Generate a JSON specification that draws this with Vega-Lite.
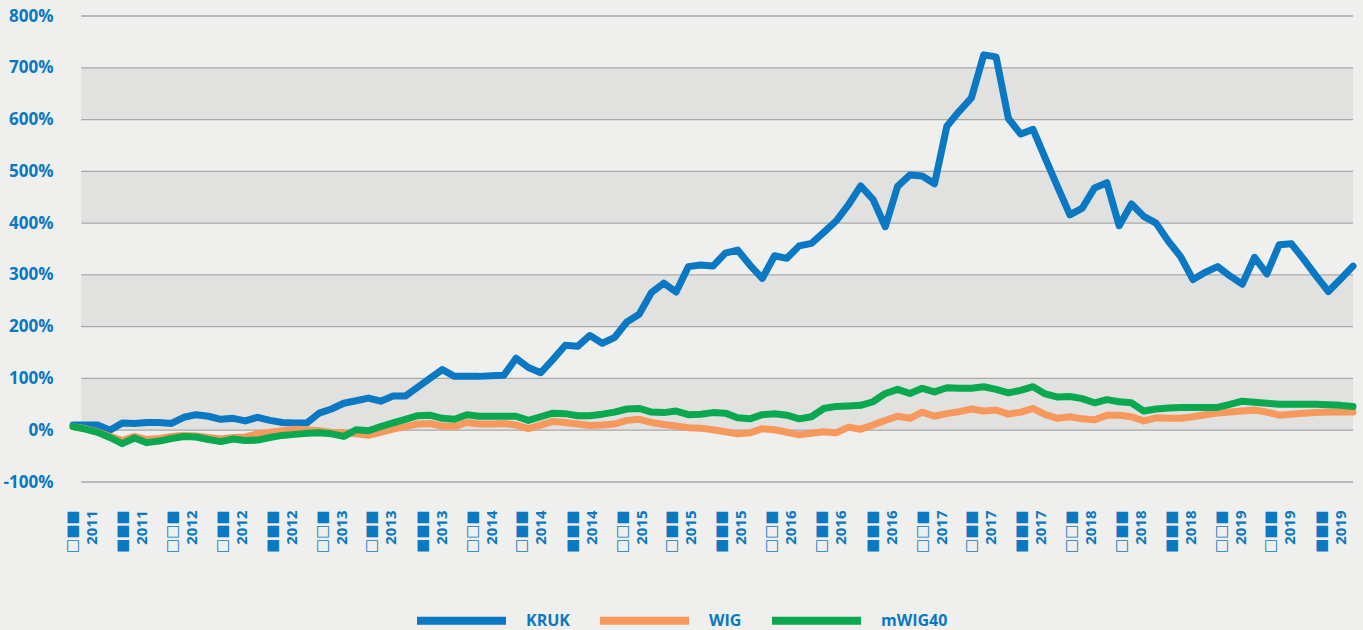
{
  "$schema": "https://vega.github.io/schema/vega-lite/v6.json",
  "width": 1280,
  "height": 466,
  "autosize": {"type": "none"},
  "padding": {"left": 73, "top": 16, "right": 10, "bottom": 148},
  "background": "#efefed",
  "config": {"view": {"stroke": null}, "font": "Open Sans"},
  "datasets": {
    "bands": [{"lo": 0, "hi": 100}, {"lo": 200, "hi": 300}, {"lo": 400, "hi": 500}, {"lo": 600, "hi": 700}],
    "grid": [{"v": -100}, {"v": 0}, {"v": 100}, {"v": 200}, {"v": 300}, {"v": 400}, {"v": 500}, {"v": 600}, {"v": 700}, {"v": 800}],
    "series": [
      {"date": "2011-04-04", "KRUK": 10, "WIG": 7, "mWIG40": 7},
      {"date": "2011-05-04", "KRUK": 10, "WIG": 3, "mWIG40": 2},
      {"date": "2011-06-03", "KRUK": 10, "WIG": -3, "mWIG40": -4},
      {"date": "2011-07-03", "KRUK": 0, "WIG": -12, "mWIG40": -14},
      {"date": "2011-08-02", "KRUK": 14, "WIG": -20, "mWIG40": -26},
      {"date": "2011-09-01", "KRUK": 13, "WIG": -12, "mWIG40": -15},
      {"date": "2011-10-01", "KRUK": 15, "WIG": -18, "mWIG40": -24},
      {"date": "2011-10-31", "KRUK": 15, "WIG": -16, "mWIG40": -21},
      {"date": "2011-11-30", "KRUK": 13, "WIG": -12, "mWIG40": -16},
      {"date": "2011-12-30", "KRUK": 25, "WIG": -10, "mWIG40": -12},
      {"date": "2012-01-29", "KRUK": 30, "WIG": -11, "mWIG40": -13},
      {"date": "2012-02-28", "KRUK": 27, "WIG": -14, "mWIG40": -18},
      {"date": "2012-03-29", "KRUK": 21, "WIG": -17, "mWIG40": -22},
      {"date": "2012-04-28", "KRUK": 23, "WIG": -14, "mWIG40": -17},
      {"date": "2012-05-28", "KRUK": 18, "WIG": -13, "mWIG40": -20},
      {"date": "2012-06-27", "KRUK": 25, "WIG": -7, "mWIG40": -19},
      {"date": "2012-07-27", "KRUK": 19, "WIG": -4, "mWIG40": -14},
      {"date": "2012-08-26", "KRUK": 15, "WIG": -1, "mWIG40": -10},
      {"date": "2012-09-25", "KRUK": 14, "WIG": 2, "mWIG40": -8},
      {"date": "2012-10-25", "KRUK": 14, "WIG": 1, "mWIG40": -6},
      {"date": "2012-11-24", "KRUK": 33, "WIG": -1, "mWIG40": -5},
      {"date": "2012-12-24", "KRUK": 41, "WIG": -4, "mWIG40": -7},
      {"date": "2013-01-23", "KRUK": 52, "WIG": -5, "mWIG40": -12},
      {"date": "2013-02-22", "KRUK": 57, "WIG": -7, "mWIG40": 1},
      {"date": "2013-03-24", "KRUK": 62, "WIG": -10, "mWIG40": -1},
      {"date": "2013-04-23", "KRUK": 56, "WIG": -4, "mWIG40": 7},
      {"date": "2013-05-23", "KRUK": 66, "WIG": 2, "mWIG40": 14},
      {"date": "2013-06-22", "KRUK": 66, "WIG": 7, "mWIG40": 21},
      {"date": "2013-07-22", "KRUK": 83, "WIG": 12, "mWIG40": 28},
      {"date": "2013-08-21", "KRUK": 100, "WIG": 13, "mWIG40": 29},
      {"date": "2013-09-20", "KRUK": 117, "WIG": 8, "mWIG40": 23},
      {"date": "2013-10-20", "KRUK": 104, "WIG": 7, "mWIG40": 21},
      {"date": "2013-11-19", "KRUK": 104, "WIG": 15, "mWIG40": 30},
      {"date": "2013-12-19", "KRUK": 104, "WIG": 12, "mWIG40": 27},
      {"date": "2014-01-18", "KRUK": 105, "WIG": 12, "mWIG40": 27},
      {"date": "2014-02-17", "KRUK": 106, "WIG": 13, "mWIG40": 27},
      {"date": "2014-03-19", "KRUK": 139, "WIG": 10, "mWIG40": 27},
      {"date": "2014-04-18", "KRUK": 121, "WIG": 3, "mWIG40": 19},
      {"date": "2014-05-18", "KRUK": 111, "WIG": 10, "mWIG40": 26},
      {"date": "2014-06-17", "KRUK": 137, "WIG": 17, "mWIG40": 33},
      {"date": "2014-07-17", "KRUK": 164, "WIG": 15, "mWIG40": 32},
      {"date": "2014-08-16", "KRUK": 162, "WIG": 12, "mWIG40": 28},
      {"date": "2014-09-15", "KRUK": 183, "WIG": 9, "mWIG40": 28},
      {"date": "2014-10-15", "KRUK": 168, "WIG": 10, "mWIG40": 31},
      {"date": "2014-11-14", "KRUK": 179, "WIG": 12, "mWIG40": 35},
      {"date": "2014-12-14", "KRUK": 209, "WIG": 19, "mWIG40": 41},
      {"date": "2015-01-13", "KRUK": 224, "WIG": 21, "mWIG40": 42},
      {"date": "2015-02-12", "KRUK": 266, "WIG": 15, "mWIG40": 35},
      {"date": "2015-03-14", "KRUK": 284, "WIG": 11, "mWIG40": 34},
      {"date": "2015-04-13", "KRUK": 267, "WIG": 8, "mWIG40": 37},
      {"date": "2015-05-13", "KRUK": 316, "WIG": 5, "mWIG40": 30},
      {"date": "2015-06-12", "KRUK": 319, "WIG": 4, "mWIG40": 31},
      {"date": "2015-07-12", "KRUK": 317, "WIG": 1, "mWIG40": 34},
      {"date": "2015-08-11", "KRUK": 342, "WIG": -3, "mWIG40": 33},
      {"date": "2015-09-10", "KRUK": 348, "WIG": -7, "mWIG40": 24},
      {"date": "2015-10-10", "KRUK": 319, "WIG": -5, "mWIG40": 22},
      {"date": "2015-11-09", "KRUK": 293, "WIG": 3, "mWIG40": 30},
      {"date": "2015-12-09", "KRUK": 337, "WIG": 1, "mWIG40": 32},
      {"date": "2016-01-08", "KRUK": 332, "WIG": -4, "mWIG40": 29},
      {"date": "2016-02-07", "KRUK": 356, "WIG": -9, "mWIG40": 22},
      {"date": "2016-03-08", "KRUK": 361, "WIG": -6, "mWIG40": 26},
      {"date": "2016-04-07", "KRUK": 382, "WIG": -3, "mWIG40": 42},
      {"date": "2016-05-07", "KRUK": 404, "WIG": -5, "mWIG40": 46},
      {"date": "2016-06-06", "KRUK": 435, "WIG": 6, "mWIG40": 47},
      {"date": "2016-07-06", "KRUK": 472, "WIG": 2, "mWIG40": 48},
      {"date": "2016-08-05", "KRUK": 446, "WIG": 10, "mWIG40": 55},
      {"date": "2016-09-04", "KRUK": 393, "WIG": 19, "mWIG40": 71},
      {"date": "2016-10-04", "KRUK": 471, "WIG": 27, "mWIG40": 79},
      {"date": "2016-11-03", "KRUK": 493, "WIG": 23, "mWIG40": 71},
      {"date": "2016-12-03", "KRUK": 491, "WIG": 35, "mWIG40": 81},
      {"date": "2017-01-02", "KRUK": 476, "WIG": 27, "mWIG40": 74},
      {"date": "2017-02-01", "KRUK": 587, "WIG": 32, "mWIG40": 82},
      {"date": "2017-03-03", "KRUK": 616, "WIG": 36, "mWIG40": 81},
      {"date": "2017-04-02", "KRUK": 642, "WIG": 41, "mWIG40": 81},
      {"date": "2017-05-02", "KRUK": 725, "WIG": 37, "mWIG40": 84},
      {"date": "2017-06-01", "KRUK": 721, "WIG": 39, "mWIG40": 79},
      {"date": "2017-07-01", "KRUK": 602, "WIG": 31, "mWIG40": 72},
      {"date": "2017-07-31", "KRUK": 572, "WIG": 35, "mWIG40": 77},
      {"date": "2017-08-30", "KRUK": 581, "WIG": 42, "mWIG40": 84},
      {"date": "2017-09-29", "KRUK": 525, "WIG": 30, "mWIG40": 70},
      {"date": "2017-10-29", "KRUK": 470, "WIG": 23, "mWIG40": 64},
      {"date": "2017-11-28", "KRUK": 416, "WIG": 26, "mWIG40": 65},
      {"date": "2017-12-28", "KRUK": 429, "WIG": 22, "mWIG40": 61},
      {"date": "2018-01-27", "KRUK": 468, "WIG": 20, "mWIG40": 53},
      {"date": "2018-02-26", "KRUK": 478, "WIG": 29, "mWIG40": 59},
      {"date": "2018-03-28", "KRUK": 395, "WIG": 29, "mWIG40": 55},
      {"date": "2018-04-27", "KRUK": 437, "WIG": 26, "mWIG40": 53},
      {"date": "2018-05-27", "KRUK": 413, "WIG": 18, "mWIG40": 37},
      {"date": "2018-06-26", "KRUK": 400, "WIG": 24, "mWIG40": 41},
      {"date": "2018-07-26", "KRUK": 365, "WIG": 23, "mWIG40": 43},
      {"date": "2018-08-25", "KRUK": 335, "WIG": 23, "mWIG40": 44},
      {"date": "2018-09-24", "KRUK": 291, "WIG": 26, "mWIG40": 44},
      {"date": "2018-10-24", "KRUK": 305, "WIG": 30, "mWIG40": 44},
      {"date": "2018-11-23", "KRUK": 316, "WIG": 33, "mWIG40": 44},
      {"date": "2018-12-23", "KRUK": 298, "WIG": 35, "mWIG40": 50},
      {"date": "2019-01-22", "KRUK": 282, "WIG": 37, "mWIG40": 56},
      {"date": "2019-02-21", "KRUK": 334, "WIG": 39, "mWIG40": 54},
      {"date": "2019-03-23", "KRUK": 302, "WIG": 35, "mWIG40": 52},
      {"date": "2019-04-22", "KRUK": 358, "WIG": 29, "mWIG40": 50},
      {"date": "2019-05-22", "KRUK": 360, "WIG": 31, "mWIG40": 50},
      {"date": "2019-06-21", "KRUK": 330, "WIG": 33, "mWIG40": 50},
      {"date": "2019-07-21", "KRUK": 298, "WIG": 34, "mWIG40": 50},
      {"date": "2019-08-20", "KRUK": 268, "WIG": 35, "mWIG40": 49},
      {"date": "2019-09-19", "KRUK": 292, "WIG": 35, "mWIG40": 48},
      {"date": "2019-10-19", "KRUK": 317, "WIG": 35, "mWIG40": 46}
    ]
  },
  "layer": [
    {
      "data": {"name": "bands"},
      "mark": {"type": "rect", "color": "#e1e1e0"},
      "encoding": {
        "x": {"datum": {"year": 2011, "month": 4, "date": 24, "utc": true}, "type": "temporal"},
        "x2": {"datum": {"year": 2019, "month": 10, "date": 19, "utc": true}},
        "y": {"field": "lo", "type": "quantitative"},
        "y2": {"field": "hi"}
      }
    },
    {
      "data": {"name": "grid"},
      "mark": {"type": "rule", "color": "#a9a9a9", "strokeWidth": 1.3},
      "encoding": {
        "x": {"datum": {"year": 2011, "month": 4, "date": 24, "utc": true}, "type": "temporal"},
        "x2": {"datum": {"year": 2019, "month": 10, "date": 19, "utc": true}},
        "y": {"field": "v", "type": "quantitative"}
      }
    },
    {
      "data": {"name": "series"},
      "transform": [{"fold": ["KRUK", "WIG", "mWIG40"], "as": ["index", "value"]}],
      "mark": {"type": "line", "strokeWidth": 7, "strokeCap": "round", "strokeJoin": "round"},
      "encoding": {
        "x": {
          "field": "date",
          "type": "temporal",
          "scale": {"type": "utc", "domain": [{"year": 2011, "month": 4, "date": 4, "utc": true}, {"year": 2019, "month": 10, "date": 19, "utc": true}]},
          "axis": {
            "title": null,
            "values": [
              {"year": 2011, "month": 5, "date": 1, "utc": true}, {"year": 2011, "month": 9, "date": 1, "utc": true},
              {"year": 2012, "month": 1, "date": 1, "utc": true}, {"year": 2012, "month": 5, "date": 1, "utc": true}, {"year": 2012, "month": 9, "date": 1, "utc": true},
              {"year": 2013, "month": 1, "date": 1, "utc": true}, {"year": 2013, "month": 5, "date": 1, "utc": true}, {"year": 2013, "month": 9, "date": 1, "utc": true},
              {"year": 2014, "month": 1, "date": 1, "utc": true}, {"year": 2014, "month": 5, "date": 1, "utc": true}, {"year": 2014, "month": 9, "date": 1, "utc": true},
              {"year": 2015, "month": 1, "date": 1, "utc": true}, {"year": 2015, "month": 5, "date": 1, "utc": true}, {"year": 2015, "month": 9, "date": 1, "utc": true},
              {"year": 2016, "month": 1, "date": 1, "utc": true}, {"year": 2016, "month": 5, "date": 1, "utc": true}, {"year": 2016, "month": 9, "date": 1, "utc": true},
              {"year": 2017, "month": 1, "date": 1, "utc": true}, {"year": 2017, "month": 5, "date": 1, "utc": true}, {"year": 2017, "month": 9, "date": 1, "utc": true},
              {"year": 2018, "month": 1, "date": 1, "utc": true}, {"year": 2018, "month": 5, "date": 1, "utc": true}, {"year": 2018, "month": 9, "date": 1, "utc": true},
              {"year": 2019, "month": 1, "date": 1, "utc": true}, {"year": 2019, "month": 5, "date": 1, "utc": true}, {"year": 2019, "month": 9, "date": 1, "utc": true}
            ],
            "labelExpr": "[utcmonth(datum.value) == 0 ? '□□■' : (utcmonth(datum.value) == 4 ? '□■■' : '■■■'), utcFormat(datum.value, '%Y')]",
            "labelAngle": -90,
            "labelPadding": 28,
            "labelOffset": -13,
            "labelFont": "'Open Sans', 'DejaVu Sans'",
            "labelFontSize": 15,
            "labelFontWeight": "bold",
            "labelColor": "#0a79c1",
            "labelLineHeight": 20,
            "labelOverlap": false,
            "labelFlush": false,
            "domain": false,
            "ticks": false,
            "grid": false
          }
        },
        "y": {
          "field": "value",
          "type": "quantitative",
          "scale": {"domain": [-100, 800], "nice": false, "zero": false},
          "axis": {
            "title": null,
            "values": [-100, 0, 100, 200, 300, 400, 500, 600, 700, 800],
            "labelExpr": "datum.value + '%'",
            "labelPadding": 20,
            "labelFont": "Open Sans",
            "labelFontSize": 17,
            "labelFontWeight": "bold",
            "labelColor": "#0a79c1",
            "domain": false,
            "ticks": false,
            "grid": false
          }
        },
        "color": {
          "field": "index",
          "type": "nominal",
          "scale": {"domain": ["KRUK", "WIG", "mWIG40"], "range": ["#0a78c2", "#f7985c", "#0aa84f"]},
          "legend": {
            "title": null,
            "orient": "none",
            "direction": "horizontal",
            "legendX": 340,
            "legendY": 556,
            "symbolType": "stroke",
            "symbolSize": 7921,
            "symbolStrokeWidth": 8,
            "labelFont": "Open Sans",
            "labelFontSize": 16,
            "labelFontWeight": "bold",
            "labelColor": "#0a79c1",
            "labelOffset": 16,
            "columnPadding": 14,
            "padding": 0,
            "encoding": {"symbols": {"update": {"strokeCap": {"value": "round"}}}}
          }
        }
      }
    }
  ]
}
